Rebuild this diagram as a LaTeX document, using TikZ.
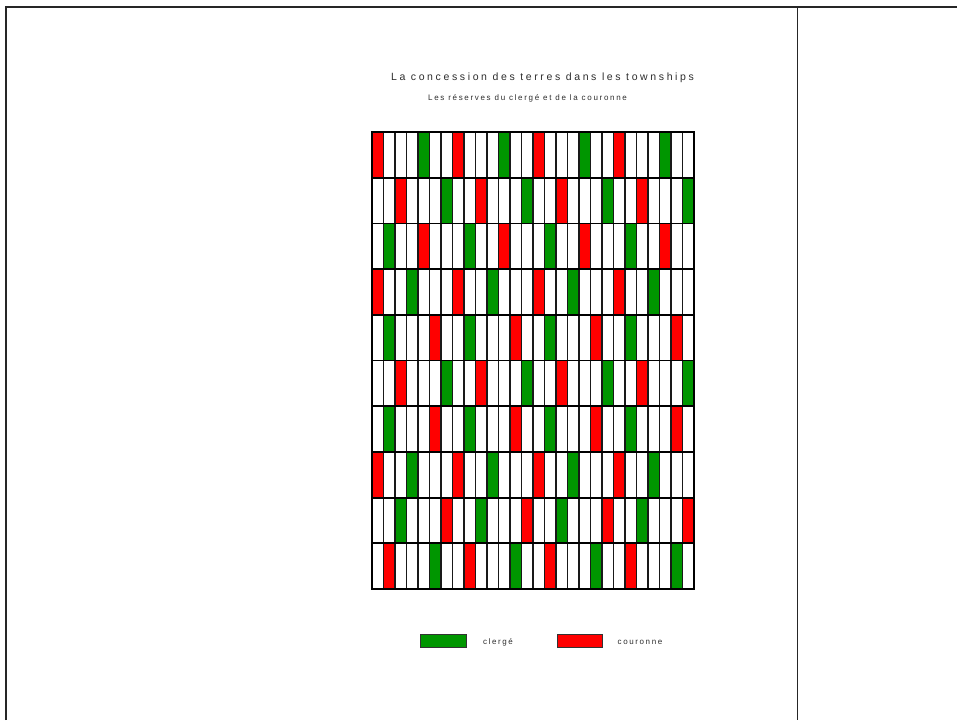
\documentclass[tikz,border=0pt]{standalone}
\usepackage{fontspec}
\setmainfont{Liberation Sans}
\definecolor{clergy}{RGB}{0,150,0}
\definecolor{crown}{RGB}{255,0,0}
\definecolor{inkgray}{RGB}{45,45,45}
\tikzset{
  frameline/.style={line width=2pt, black!85},
  lotline/.style={line width=1.3pt, black!90},
  rowline/.style={line width=1.8pt, black},
  gridborder/.style={line width=2.4pt, black},
  legendbox/.style={draw=black!80, line width=1pt},
  titletext/.style={text=inkgray, inner sep=0pt, font=\fontsize{10.5}{12}\selectfont\addfontfeature{LetterSpace=25}},
  subtext/.style={text=inkgray, inner sep=0pt, font=\fontsize{8}{9.5}\selectfont\addfontfeature{LetterSpace=21}},
  legtext/.style={text=inkgray, inner sep=0pt, font=\fontsize{8}{9.5}\selectfont\addfontfeature{LetterSpace=20}}
}
\begin{document}
\begin{tikzpicture}[x=1pt,y=-1pt]
\useasboundingbox (0,0) rectangle (957,720);
\fill[white] (0,0) rectangle (957,720);
% page frame
\draw[frameline] (6,720) -- (6,7) -- (957,7);
\draw[frameline, line width=1.6pt] (797.5,7) -- (797.5,720);
% titles
\node[titletext] (title) at (542.5,77.5) {La concession des terres dans les townships};
\node[subtext] (subtitle) at (527.5,98.5) {Les réserves du clergé et de la couronne};
% coloured lots
\foreach \r/\reds/\greens in {
  1/{0,7,14,21}/{4,11,18,25},
  2/{2,9,16,23}/{6,13,20,27},
  3/{4,11,18,25}/{1,8,15,22},
  4/{0,7,14,21}/{3,10,17,24},
  5/{5,12,19,26}/{1,8,15,22},
  6/{2,9,16,23}/{6,13,20,27},
  7/{5,12,19,26}/{1,8,15,22},
  8/{0,7,14,21}/{3,10,17,24},
  9/{6,13,20,27}/{2,9,16,23},
  10/{1,8,15,22}/{5,12,19,26}}{
  \foreach \c in \reds {
    \fill[crown] ({372+\c*11.5},{132+(\r-1)*45.7}) rectangle +(11.5,45.7);
  }
  \foreach \c in \greens {
    \fill[clergy] ({372+\c*11.5},{132+(\r-1)*45.7}) rectangle +(11.5,45.7);
  }
}
% lot lines
\foreach \c in {1,...,27} {
  \draw[lotline] ({372+\c*11.5},132) -- ({372+\c*11.5},589);
}
% range lines
\foreach \r in {1,...,9} {
  \draw[rowline] (372,{132+\r*45.7}) -- (694,{132+\r*45.7});
}
\draw[gridborder] (372,132) rectangle (694,589);
% legend
\filldraw[legendbox, fill=clergy] (420,634) rectangle (466,647);
\node[legtext] (lclergy) at (498,642) {clergé};
\filldraw[legendbox, fill=crown] (557,634) rectangle (602,647);
\node[legtext] (lcrown) at (640,642) {couronne};
\end{tikzpicture}
\end{document}
